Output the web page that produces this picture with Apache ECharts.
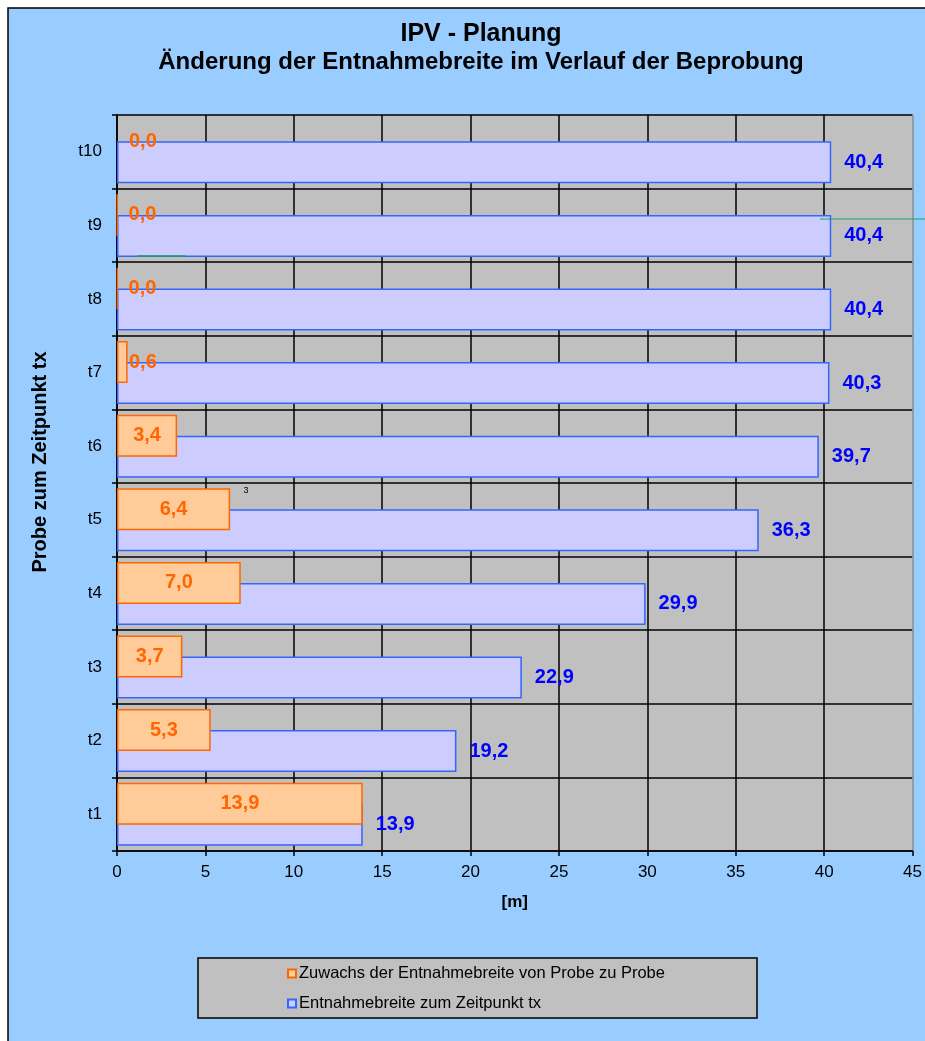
<!DOCTYPE html>
<html>
<head>
<meta charset="utf-8">
<script src="https://cdn.jsdelivr.net/npm/echarts@6/dist/echarts.min.js"></script>
<style>
  html, body { margin: 0; padding: 0; background: #ffffff; }
  #chart { width: 925px; height: 1041px; }
</style>
</head>
<body>
<div id="chart"></div>
<script>
// categories, bottom to top
var categories = ['t1', 't2', 't3', 't4', 't5', 't6', 't7', 't8', 't9', 't10'];
// growth of width from sample to sample [m]
var zuwachs = [13.9, 5.3, 3.7, 7.0, 6.4, 3.4, 0.6, 0.04, 0.03, 0.0];
// width at point in time tx [m]
var breite = [13.9, 19.2, 22.9, 29.9, 36.3, 39.7, 40.3, 40.4, 40.4, 40.4];
var xTicks = [0, 5, 10, 15, 20, 25, 30, 35, 40, 45];

var FONT = '"Liberation Sans", Arial, sans-serif';

function fmt(v) {
	return v.toFixed(1).replace('.', ',');
}

var chart = echarts.init(document.getElementById('chart'), null, { renderer: 'canvas' });

var orangeData = zuwachs.map(function(v) {
	var item = { value: v };
	// small bars: label sits just right of the axis
	if (v < 1) {
		item.label = { position: [12, '50%'], align: 'left', verticalAlign: 'middle' };
	}
	if (v === 0) {
		item.itemStyle = { borderWidth: 0 };
	}
	return item;
});

var gridColors = xTicks.map(function(t, i) {
	return i === xTicks.length - 1 ? '#8c8c8c' : '#000000';
});

var option = {
	backgroundColor: '#ffffff',
	animation: false,
	textStyle: { fontFamily: FONT },
	graphic: [{
		type: 'rect',
		z: -10,
		shape: { x: 8, y: 8, width: 930, height: 1045 },
		style: { fill: '#99ccff', stroke: '#000000', lineWidth: 1.5 }
	}, {
		type: 'text',
		x: 481, y: 34,
		style: { text: 'IPV - Planung', font: 'bold 25px ' + FONT, fill: '#000', align: 'center', verticalAlign: 'middle' }
	}, {
		type: 'text',
		x: 481, y: 62,
		style: { text: 'Änderung der Entnahmebreite im Verlauf der Beprobung', font: 'bold 24px ' + FONT, fill: '#000', align: 'center', verticalAlign: 'middle' }
	}, {
		type: 'text',
		x: 40, y: 462,
		rotation: Math.PI / 2,
		style: { text: 'Probe zum Zeitpunkt tx', font: 'bold 20px ' + FONT, fill: '#000', align: 'center', verticalAlign: 'middle' }
	}, {
		type: 'rect',
		z: -5,
		shape: { x: 198, y: 958, width: 559, height: 60 },
		style: { fill: '#c0c0c0', stroke: '#000000', lineWidth: 1.5 }
	}, {
		// stray drawing marks in the source chart
		type: 'line',
		z: 20,
		shape: { x1: 820, y1: 219, x2: 925, y2: 219 },
		style: { stroke: '#1f9f6f', lineWidth: 1.2 }
	}, {
		type: 'line',
		z: 20,
		shape: { x1: 137, y1: 256, x2: 185, y2: 256 },
		style: { stroke: '#1f9f6f', lineWidth: 1.5 }
	}, {
		type: 'text',
		z: 20,
		x: 246, y: 491,
		style: { text: '3', font: '9px ' + FONT, fill: '#000', align: 'center', verticalAlign: 'middle' }
	}],
	legend: {
		orient: 'vertical',
		left: 282,
		top: 960,
		itemWidth: 8,
		itemHeight: 8,
		itemGap: 13,
		icon: 'rect',
		textStyle: { fontSize: 16.5, color: '#000', fontFamily: FONT, padding: [0, 0, 0, -2] },
		data: ['Zuwachs der Entnahmebreite von Probe zu Probe', 'Entnahmebreite zum Zeitpunkt tx']
	},
	grid: {
		left: 117,
		right: 8,
		top: 115,
		bottom: 190,
		show: true,
		backgroundColor: '#c0c0c0',
		borderWidth: 0
	},
	xAxis: {
		type: 'value',
		min: 0,
		max: 45,
		interval: 5,
		name: '[m]',
		nameLocation: 'middle',
		nameGap: 43,
		nameTextStyle: { fontSize: 17, fontWeight: 'bold', color: '#000' },
		axisLine: { show: true, lineStyle: { color: '#000', width: 1.5 } },
		axisTick: { show: true, length: 5, lineStyle: { color: '#000', width: 1.5 } },
		axisLabel: { fontSize: 17, color: '#000', margin: 13 },
		splitLine: { show: true, lineStyle: { color: gridColors, width: 1.5 } }
	},
	yAxis: {
		type: 'category',
		data: categories,
		axisLine: { show: true, lineStyle: { color: '#000', width: 1.5 } },
		axisTick: { show: true, length: 5, lineStyle: { color: '#000', width: 1.5 } },
		axisLabel: { fontSize: 17, color: '#000', margin: 15 },
		splitLine: { show: true, lineStyle: { color: '#000', width: 1.5 } }
	},
	series: [{
		name: 'Zuwachs der Entnahmebreite von Probe zu Probe',
		type: 'bar',
		z: 4,
		barWidth: 42,
		barGap: '-50%',
		data: orangeData,
		itemStyle: { color: '#ffcc99', borderColor: '#ff6600', borderWidth: 1.5 },
		label: {
			show: true,
			position: 'inside',
			formatter: function(p) { return fmt(p.value); },
			color: '#ff6600',
			fontSize: 20,
			fontWeight: 'bold',
			fontFamily: FONT
		}
	}, {
		name: 'Entnahmebreite zum Zeitpunkt tx',
		type: 'bar',
		z: 3,
		barWidth: 42,
		barGap: '-50%',
		data: breite,
		itemStyle: { color: '#ccccff', borderColor: '#3366ff', borderWidth: 1.5 },
		label: {
			show: true,
			position: 'right',
			distance: 13,
			formatter: function(p) { return fmt(p.value); },
			color: '#0000ff',
			fontSize: 20,
			fontWeight: 'bold',
			fontFamily: FONT
		}
	}]
};

chart.setOption(option);
</script>
</body>
</html>
